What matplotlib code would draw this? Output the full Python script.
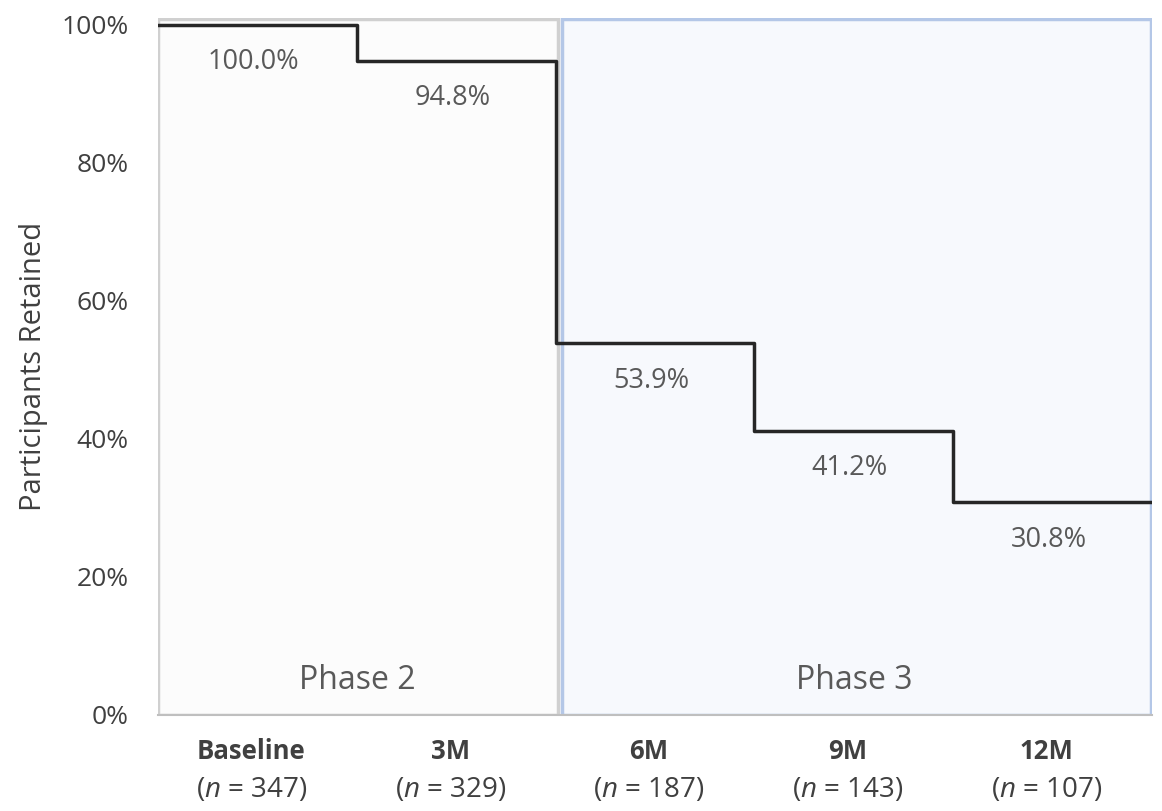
import numpy as np
import matplotlib.pyplot as plt
from matplotlib.patches import Rectangle
from matplotlib.transforms import blended_transform_factory

plt.rcParams['font.family'] = ['Open Sans', 'DejaVu Sans']
plt.rcParams['mathtext.fontset'] = 'custom'
plt.rcParams['mathtext.rm'] = 'Open Sans'
plt.rcParams['mathtext.it'] = 'Open Sans:italic'

categories = ["Baseline", "3M", "6M", "9M", "12M"]
n_values = [347, 329, 187, 143, 107]
retained = [100.0, 94.8, 53.9, 41.2, 30.8]
phases = ["Phase 2", "Phase 3"]
yticks = [0, 20, 40, 60, 80, 100]

fig = plt.figure(figsize=(11.62, 8.11), dpi=100)
ax = fig.add_axes([0.136, 0.1184, 0.8554, 0.8594])
ax.set_xlim(0, len(categories))
ax.set_ylim(0, 101)

# phase background boxes
ax.add_patch(Rectangle((0.0, 0), 2.01, 100.9, facecolor="#fcfcfc",
                       edgecolor="#d0d0d0", lw=2.5, zorder=1))
ax.add_patch(Rectangle((2.03, 0), 2.965, 100.9, facecolor="#f7f9fd",
                       edgecolor="#b4c7e7", lw=2.5, zorder=1))
ax.text(1.0, 5, phases[0], ha="center", va="center", fontsize=23, color="#595959", zorder=3)
ax.text(3.5, 5, phases[1], ha="center", va="center", fontsize=23, color="#595959", zorder=3)

# retention step line
x_edges = np.arange(len(categories) + 1)
y_vals = retained + [retained[-1]]
ax.step(x_edges, y_vals, where="post", color="#262626", lw=2.5, zorder=4)

for i, v in enumerate(retained):
    ax.annotate(f"{v:.1f}%", (i + 0.48, v), xytext=(0, -27), textcoords="offset points",
                ha="center", va="center", fontsize=19.5, color="#595959", zorder=5)

# axes styling
for s in ["top", "right", "left"]:
    ax.spines[s].set_visible(False)
ax.spines["bottom"].set_color("#bfbfbf")
ax.spines["bottom"].set_linewidth(1.5)
ax.set_yticks(yticks)
ax.set_yticklabels([f"{t}%" for t in yticks], fontsize=19, color="#404040")
ax.tick_params(axis="y", length=0, pad=21)
ax.set_xticks([])
ax.set_ylabel("Participants Retained", fontsize=21, color="#404040", labelpad=10)

trans = blended_transform_factory(ax.transData, ax.transAxes)
for i, (c, n) in enumerate(zip(categories, n_values)):
    ax.text(i + 0.47, -0.053, c, transform=trans, ha="center", va="center",
            fontsize=18.5, fontweight="bold", color="#404040")
    ax.text(i + 0.47, -0.107, rf"($\mathit{{n}}$ = {n})", transform=trans, ha="center",
            va="center", fontsize=20, color="#404040")

fig.savefig("out.png", dpi=100)
